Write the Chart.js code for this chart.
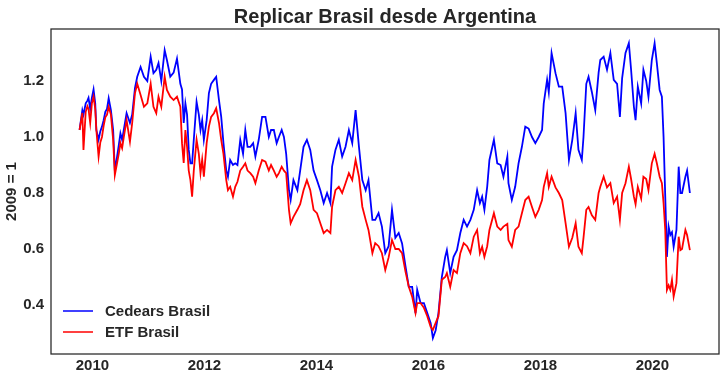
<!DOCTYPE html>
<html>
<head>
<meta charset="utf-8">
<script src="https://cdn.jsdelivr.net/npm/chart.js@4/dist/chart.umd.min.js"></script>
<style>
html,body{margin:0;padding:0;background:#ffffff;}
#wrap{width:726px;height:379px;position:relative;}
</style>
</head>
<body>
<div id="wrap"><canvas id="c" width="726" height="379"></canvas></div>
<script>
const chartTitle = "Replicar Brasil desde Argentina";
const yAxisLabel = "2009 = 1";
const seriesNames = ["Cedears Brasil", "ETF Brasil"];
const seriesColors = ["#0000ff", "#ff0000"];
const xTickValues = [2010, 2012, 2014, 2016, 2018, 2020];
const yTickValues = [0.4, 0.6, 0.8, 1.0, 1.2];

const dates = [
2009.77,2009.82,2009.84,2009.88,2009.91,2009.93,2009.96,2009.99,2010.02,2010.05,
2010.07,2010.11,2010.14,2010.17,2010.20,2010.23,2010.26,2010.29,2010.33,2010.37,
2010.40,2010.44,2010.47,2010.50,2010.53,2010.56,2010.61,2010.67,2010.71,2010.76,
2010.80,2010.86,2010.92,2010.98,2011.04,2011.09,2011.14,2011.18,2011.23,2011.29,
2011.33,2011.39,2011.45,2011.51,2011.57,2011.60,2011.63,2011.66,2011.69,2011.72,
2011.75,2011.78,2011.81,2011.86,2011.90,2011.93,2011.96,2011.99,2012.04,2012.08,
2012.12,2012.17,2012.21,2012.26,2012.30,2012.34,2012.39,2012.42,2012.46,2012.51,
2012.55,2012.59,2012.64,2012.69,2012.73,2012.77,2012.82,2012.87,2012.91,2012.97,
2013.03,2013.09,2013.15,2013.19,2013.24,2013.29,2013.33,2013.38,2013.42,2013.46,
2013.51,2013.54,2013.59,2013.66,2013.71,2013.77,2013.83,2013.89,2013.95,2014.01,
2014.07,2014.13,2014.19,2014.25,2014.28,2014.34,2014.40,2014.46,2014.52,2014.58,
2014.64,2014.70,2014.76,2014.82,2014.88,2014.93,2015.00,2015.05,2015.11,2015.17,
2015.23,2015.29,2015.35,2015.41,2015.47,2015.53,2015.59,2015.65,2015.71,2015.77,
2015.80,2015.86,2015.92,2015.98,2016.04,2016.08,2016.13,2016.18,2016.24,2016.30,
2016.33,2016.39,2016.45,2016.51,2016.57,2016.63,2016.69,2016.75,2016.81,2016.87,
2016.92,2016.96,2017.00,2017.05,2017.09,2017.17,2017.23,2017.29,2017.34,2017.41,
2017.43,2017.49,2017.55,2017.61,2017.67,2017.73,2017.79,2017.85,2017.91,2017.97,
2018.03,2018.06,2018.12,2018.15,2018.20,2018.27,2018.33,2018.39,2018.45,2018.51,
2018.57,2018.63,2018.68,2018.74,2018.77,2018.82,2018.86,2018.92,2018.98,2019.04,
2019.07,2019.13,2019.19,2019.25,2019.31,2019.37,2019.42,2019.46,2019.52,2019.58,
2019.62,2019.67,2019.70,2019.74,2019.80,2019.84,2019.89,2019.93,2019.99,2020.04,
2020.08,2020.13,2020.17,2020.20,2020.23,2020.26,2020.29,2020.32,2020.35,2020.38,
2020.43,2020.47,2020.50,2020.53,2020.59,2020.62,2020.67
];

const cedearsBrasil = [
1.025,1.096,1.08,1.12,1.13,1.14,1.10,1.14,1.17,1.12,
1.025,0.99,1.02,1.037,1.06,1.09,1.10,1.138,1.096,1.025,
0.88,0.93,0.97,1.013,0.99,1.025,1.085,1.05,1.08,1.175,
1.215,1.25,1.215,1.20,1.287,1.228,1.24,1.264,1.20,1.31,
1.275,1.215,1.23,1.28,1.19,1.17,1.05,1.12,1.08,0.954,
0.906,0.906,0.99,1.126,1.08,1.025,1.06,0.99,1.06,1.157,
1.19,1.204,1.215,1.132,1.072,0.978,0.88,0.858,0.918,0.90,
0.906,0.90,0.99,0.94,1.025,0.965,0.965,0.978,0.93,0.99,
1.072,1.072,1.0,1.025,1.025,0.978,1.0,1.025,1.0,0.94,
0.81,0.775,0.846,0.81,0.88,0.965,0.99,0.954,0.88,0.846,
0.81,0.764,0.80,0.764,0.894,0.954,0.99,0.93,0.965,1.025,
0.978,1.096,0.965,0.846,0.81,0.846,0.704,0.704,0.728,0.68,
0.585,0.61,0.74,0.64,0.657,0.62,0.54,0.465,0.465,0.371,
0.454,0.407,0.407,0.371,0.336,0.282,0.31,0.371,0.50,0.572,
0.596,0.514,0.572,0.596,0.657,0.704,0.68,0.704,0.74,0.81,
0.764,0.787,0.74,0.822,0.918,0.99,0.906,0.90,0.858,0.93,
0.835,0.775,0.822,0.906,0.965,1.037,1.03,1.00,0.978,1.0,
1.025,1.12,1.204,1.16,1.30,1.228,1.18,1.18,1.085,0.918,
0.99,1.085,0.954,0.918,1.0,1.19,1.215,1.16,1.096,1.23,
1.275,1.287,1.24,1.30,1.204,1.19,1.072,1.21,1.30,1.335,
1.24,1.108,1.06,1.18,1.12,1.24,1.20,1.144,1.275,1.335,
1.264,1.168,1.144,1.0,0.787,0.572,0.68,0.65,0.66,0.608,
0.668,0.894,0.8,0.80,0.858,0.88,0.8
];

const etfBrasil = [
1.025,1.086,0.954,1.09,1.11,1.10,1.05,1.12,1.144,1.10,
1.025,0.93,0.98,1.0,1.04,1.07,1.08,1.108,1.08,0.99,
0.864,0.907,0.94,0.978,0.96,1.0,1.06,0.983,1.05,1.157,
1.19,1.15,1.108,1.12,1.19,1.108,1.085,1.144,1.108,1.215,
1.168,1.144,1.132,1.144,1.108,0.978,0.907,1.025,0.965,0.88,
0.846,0.787,0.88,0.99,0.94,0.871,0.92,0.858,0.978,1.037,
1.072,1.085,1.103,1.05,0.99,0.94,0.846,0.81,0.822,0.787,
0.822,0.84,0.88,0.894,0.906,0.88,0.871,0.858,0.835,0.88,
0.918,0.912,0.88,0.90,0.88,0.858,0.871,0.894,0.88,0.871,
0.74,0.692,0.715,0.74,0.76,0.81,0.846,0.81,0.74,0.728,
0.692,0.657,0.668,0.657,0.751,0.81,0.822,0.80,0.835,0.871,
0.846,0.918,0.858,0.751,0.704,0.668,0.585,0.621,0.61,0.585,
0.525,0.57,0.632,0.60,0.60,0.585,0.52,0.465,0.43,0.371,
0.407,0.407,0.39,0.36,0.322,0.311,0.336,0.36,0.49,0.50,
0.514,0.465,0.525,0.514,0.585,0.621,0.61,0.585,0.644,0.668,
0.585,0.608,0.572,0.61,0.668,0.728,0.68,0.668,0.68,0.69,
0.632,0.608,0.668,0.68,0.728,0.775,0.787,0.75,0.715,0.74,
0.775,0.822,0.871,0.822,0.858,0.82,0.8,0.775,0.692,0.608,
0.64,0.692,0.608,0.585,0.64,0.74,0.75,0.72,0.704,0.8,
0.822,0.858,0.82,0.835,0.764,0.787,0.704,0.80,0.835,0.894,
0.85,0.787,0.76,0.822,0.78,0.858,0.85,0.81,0.906,0.94,
0.906,0.858,0.835,0.764,0.668,0.454,0.47,0.454,0.49,0.43,
0.478,0.644,0.596,0.60,0.668,0.65,0.596
];

const FONT = '"Liberation Sans", Arial, Helvetica, sans-serif';
const TEXT = '#262626';

function toPoints(xs, ys){ return xs.map((x,i)=>({x:x, y:ys[i]})); }

const framePlugin = {
  id: 'frame',
  afterDraw(chart){
    const {ctx, chartArea:a} = chart;
    ctx.save();
    ctx.strokeStyle = TEXT;
    ctx.lineWidth = 1.25;
    ctx.strokeRect(a.left, a.top, a.right - a.left, a.bottom - a.top);
    ctx.fillStyle = TEXT;
    ctx.font = 'bold 20px ' + FONT;
    ctx.textAlign = 'center';
    ctx.textBaseline = 'alphabetic';
    ctx.fillText(chartTitle, (a.left + a.right)/2, 23);
    ctx.font = 'bold 15px ' + FONT;
    ctx.textAlign = 'left';
    ctx.textBaseline = 'middle';
    chart.data.datasets.forEach((ds, i) => {
      const y = a.bottom - 43 + i*21;
      ctx.strokeStyle = ds.borderColor;
      ctx.lineWidth = 1.5;
      ctx.beginPath();
      ctx.moveTo(a.left + 12, y);
      ctx.lineTo(a.left + 42, y);
      ctx.stroke();
      ctx.fillStyle = TEXT;
      ctx.fillText(ds.label, a.left + 54, y + 1);
    });
    ctx.restore();
  }
};

new Chart(document.getElementById('c'), {
  type: 'line',
  data: {
    datasets: [
      { label: seriesNames[0], data: toPoints(dates, cedearsBrasil), borderColor: seriesColors[0], backgroundColor: seriesColors[0], borderWidth: 1.8, pointRadius: 0, tension: 0, order: 2 },
      { label: seriesNames[1], data: toPoints(dates, etfBrasil), borderColor: seriesColors[1], backgroundColor: seriesColors[1], borderWidth: 1.8, pointRadius: 0, tension: 0, order: 1 }
    ]
  },
  options: {
    responsive: false,
    animation: false,
    devicePixelRatio: 1,
    layout: { padding: { top: 29, right: 7, left: 0, bottom: 0 } },
    plugins: { legend: { display: false }, tooltip: { enabled: false }, title: { display: false } },
    scales: {
      x: {
        type: 'linear', min: 2009.26, max: 2021.19,
        grid: { display: false, drawTicks: false },
        border: { display: false },
        ticks: { padding: 3, color: TEXT, font: { family: FONT, size: 15, weight: 'bold' }, maxRotation: 0, autoSkip: false, callback: v => String(v) },
        afterBuildTicks: s => { s.ticks = xTickValues.map(v => ({ value: v })); },
        afterFit: s => { s.height = 25; }
      },
      y: {
        type: 'linear', min: 0.225, max: 1.3857,
        grid: { display: false, drawTicks: false },
        border: { display: false },
        ticks: { padding: 7, color: TEXT, font: { family: FONT, size: 15, weight: 'bold' }, callback: v => Number(v).toFixed(1) },
        afterBuildTicks: s => { s.ticks = yTickValues.map(v => ({ value: v })); },
        afterFit: s => { s.width = 51; },
        title: { display: true, text: yAxisLabel, color: TEXT, font: { family: FONT, size: 15, weight: 'bold' }, padding: { top: 3, bottom: 2 } }
      }
    }
  },
  plugins: [framePlugin]
});
</script>
</body>
</html>
